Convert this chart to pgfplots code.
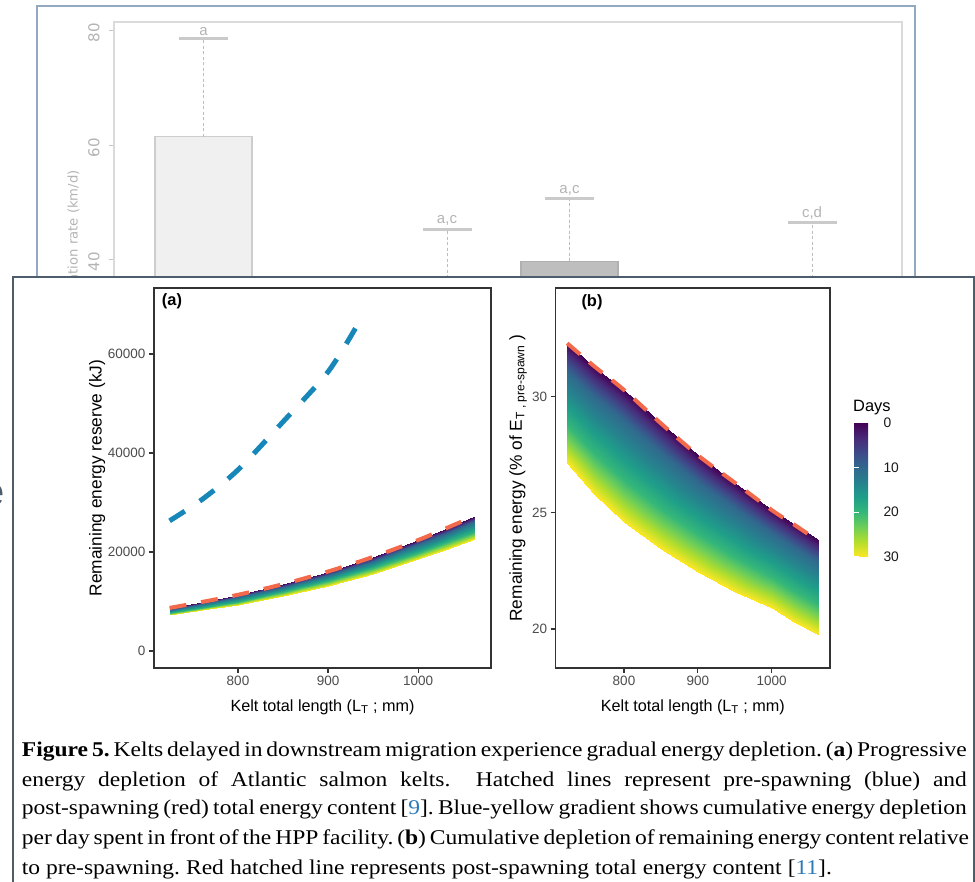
\documentclass[border=0pt]{standalone}
\usepackage{fontspec}
\setmainfont{Liberation Serif}
\newfontfamily\arial{Liberation Sans}
\newfontfamily\dejavu{DejaVu Sans}
\newfontfamily\capserif[FakeStretch=1.12]{Liberation Serif}
\usepackage{pgfplots}
\pgfplotsset{compat=1.18}

\definecolor{frameblue}{HTML}{93A9C1}
\definecolor{overlaycol}{HTML}{4E5D6C}
\definecolor{bgpanel}{HTML}{DADADA}
\definecolor{bgtext}{HTML}{B4B4B4}
\definecolor{bgtick}{HTML}{C4C4C4}
\definecolor{bgwhisk}{HTML}{BDBDBD}
\definecolor{bgcap}{HTML}{CACACA}
\definecolor{bar1}{HTML}{F0F0F0}
\definecolor{bar1edge}{HTML}{CDCDCD}
\definecolor{bar3}{HTML}{BEBEBE}
\definecolor{bar3edge}{HTML}{B0B0B0}
\definecolor{axdark}{HTML}{333333}
\definecolor{tickgray}{HTML}{4D4D4D}
\definecolor{redl}{HTML}{F26A4B}
\definecolor{bluel}{HTML}{1787BA}
\definecolor{citeblue}{HTML}{2B7BB9}

\pgfplotsset{colormap={vir}{rgb255=(68,1,84) rgb255=(72,40,120) rgb255=(62,74,137)
  rgb255=(49,104,142) rgb255=(38,130,142) rgb255=(31,158,137) rgb255=(53,183,121)
  rgb255=(110,206,88) rgb255=(181,222,43) rgb255=(253,231,37)}}

\newcommand{\tickfont}{\arial\fontsize{13.5}{14}\selectfont}
\newcommand{\labfont}{\arial\fontsize{16.2}{18}\selectfont}
\newcommand{\ylabfont}{\arial\fontsize{17.3}{18}\selectfont}
\newcommand{\capfont}{\capserif\fontsize{21}{24}\selectfont\frenchspacing}
\newcommand{\refc}[1]{[\textcolor{citeblue}{#1}]}

\begin{document}
\begin{tikzpicture}[x=1pt,y=1pt]
\useasboundingbox (0,0) rectangle (975,882);
\fill[white] (0,0) rectangle (975,882);

% ---- background screenshot: bar chart behind the figure ----
\draw[frameblue, line width=2pt] (37,876) rectangle (915,-20);

\begin{axis}[
    name=bg, at={(114pt,393pt)}, anchor=south west, scale only axis,
    width=788pt, height=467pt,
    xmin=114, xmax=902, ymin=0, ymax=81.57,
    axis line style={draw=bgpanel, line width=2pt},
    xtick=\empty, ytick={40,60,80}, yticklabels={40,60,80},
    ytick pos=left, tick align=outside, major tick length=5pt,
    tick style={draw=bgtick, line width=1pt},
    yticklabel style={font=\dejavu\fontsize{15}{16}\selectfont, text=bgtext,
        rotate=90, anchor=south, xshift=-2pt, yshift=6pt},
]
\addplot[ybar, bar width=97pt, bar shift=0pt, fill=bar1, draw=bar1edge, line width=1.2pt,
    error bars/.cd, y dir=plus, y explicit,
    error bar style={draw=bgwhisk, line width=1pt, dash pattern=on 3pt off 2.5pt},
    error mark options={draw=bgcap, solid, rotate=90, mark size=24.5pt, line width=3pt}]
    coordinates {(203.5,61.5) +- (0,17.1)};
\addplot[ybar, bar width=97pt, bar shift=0pt, fill=bar1, draw=bar1edge, line width=1.2pt,
    error bars/.cd, y dir=plus, y explicit,
    error bar style={draw=bgwhisk, line width=1pt, dash pattern=on 3pt off 2.5pt},
    error mark options={draw=bgcap, solid, rotate=90, mark size=24.5pt, line width=3pt}]
    coordinates {(447,33) +- (0,12.4) (812,34) +- (0,12.5)};
\addplot[ybar, bar width=97pt, bar shift=0pt, fill=bar3, draw=bar3edge, line width=1.2pt,
    error bars/.cd, y dir=plus, y explicit,
    error bar style={draw=bgwhisk, line width=1pt, dash pattern=on 3pt off 2.5pt},
    error mark options={draw=bgcap, solid, rotate=90, mark size=24.5pt, line width=3pt}]
    coordinates {(569.5,39.8) +- (0,11.0)};
\addplot[draw=none, mark=none, nodes near coords, point meta=explicit symbolic,
    every node near coord/.append style={font=\arial\fontsize{15}{16}\selectfont,
        text=bgtext, anchor=south, inner sep=0pt, yshift=3pt}]
    coordinates {(203.5,78.6)[a] (447,45.4)[a,c] (569.5,50.8)[a,c] (812,46.5)[c,d]};
\end{axis}
\node[rotate=90, anchor=east, inner sep=0pt, font=\dejavu\fontsize{13.2}{14}\selectfont,
    text=bgtext] at (74,712) {Migration rate (km/d)};

% ---- figure overlay ----
\draw[overlaycol, line width=2pt, fill=white] (13,605) rectangle (974,-20);
\node[anchor=east, inner sep=0pt, font=\arial\fontsize{40}{40}\selectfont, text=overlaycol]
    at (5,387) {e};

% panel (a)
\begin{axis}[
    name=pa, at={(154pt,214pt)}, anchor=south west, scale only axis,
    width=337pt, height=380pt,
    xmin=706.7, xmax=1081, ymin=-3434, ymax=73333,
    scaled y ticks=false, scaled x ticks=false,
    axis line style={draw=axdark, line width=1.3pt},
    tick pos=left, tick align=outside, major tick length=5pt,
    tick style={draw=axdark, line width=1.1pt},
    xtick={800,900,1000}, xticklabels={800,900,1000},
    ytick={0,20000,40000,60000}, yticklabels={0,20000,40000,60000},
    ticklabel style={font=\tickfont, text=tickgray},
    xlabel={Kelt total length (L\textsubscript{T} ; mm)},
    ylabel={Remaining energy reserve (kJ)},
    xlabel style={font=\labfont, at={(axis description cs:0.5,-0.1026)}, anchor=center},
    ylabel style={font=\ylabfont, at={(axis description cs:-0.169,0.5)}, anchor=center},
    colormap name=vir, point meta min=0, point meta max=30,
]
% energy after 0, 10, 20 and 30 days (one row per day)
\addplot[surf, shader=interp, mesh/rows=4, point meta=explicit] table[x=L, y=E, meta=d] {
L E d
724 8700 0
760 9900 0
800 11350 0
850 13500 0
900 16050 0
950 19000 0
1000 22400 0
1030 24700 0
1063 27300 0
724 8380 10
760 9510 10
800 10870 10
850 12940 10
900 15380 10
950 18230 10
1000 21530 10
1030 23720 10
1063 26220 10
724 7750 20
760 8740 20
800 9920 20
850 11830 20
900 14080 20
950 16720 20
1000 19820 20
1030 21810 20
1063 24100 20
724 7300 30
760 8200 30
800 9250 30
850 11050 30
900 13150 30
950 15650 30
1000 18600 30
1030 20450 30
1063 22600 30
};
\addplot[draw=redl, line width=4pt, dash pattern=on 17pt off 15pt, smooth] coordinates {
(724,8700) (760,9900) (800,11350) (850,13500) (900,16050) (950,19000)
(1000,22400) (1030,24700) (1063,27300)};
\addplot[draw=bluel, line width=5pt, dash pattern=on 18pt off 18pt, smooth] coordinates {
(724,26300) (760,30600) (800,36600) (850,46300) (900,56400) (933,66000)};
\end{axis}
\node[font=\arial\bfseries\fontsize{16.4}{17}\selectfont] at (172,581) {(a)};

% panel (b)
\begin{axis}[
    name=pb, at={(555.7pt,214pt)}, anchor=south west, scale only axis,
    width=274.3pt, height=380pt,
    xmin=707.5, xmax=1079, ymin=18.32, ymax=34.68,
    axis line style={draw=axdark, line width=1.3pt},
    tick pos=left, tick align=outside, major tick length=5pt,
    tick style={draw=axdark, line width=1.1pt},
    xtick={800,900,1000}, xticklabels={800,900,1000},
    ytick={20,25,30}, yticklabels={20,25,30},
    ticklabel style={font=\tickfont, text=tickgray},
    xlabel={Kelt total length (L\textsubscript{T} ; mm)},
    ylabel={Remaining energy (\% of E\textsubscript{T , pre-spawn} )},
    xlabel style={font=\labfont, at={(axis description cs:0.5,-0.1026)}, anchor=center},
    ylabel style={font=\ylabfont, at={(axis description cs:-0.137,0.5)}, anchor=center},
    colormap name=vir, point meta min=0, point meta max=30,
    colorbar,
    colorbar style={
        at={(1.0875,0.645)}, anchor=north west,
        width=26pt, height=134pt, scale only axis,
        y dir=reverse, ytick={0,10,20,30}, yticklabels={0,10,20,30},
        ytick pos=both, yticklabel pos=right,
        tick align=inside, major tick length=5pt,
        tick style={draw=white, line width=1.2pt},
        axis line style={draw=none},
        yticklabel style={font=\arial\fontsize{13.8}{14}\selectfont, text=black!90},
    },
]
\addplot[surf, shader=interp, mesh/rows=4, point meta=explicit] table[x=L, y=P, meta=d] {
L P d
723 32.3 0
760 31.3 0
800 30.29 0
850 28.85 0
900 27.48 0
950 26.3 0
1000 25.12 0
1030 24.5 0
1064 23.83 0
723 31.11 10
760 30.03 10
800 28.98 10
850 27.61 10
900 26.33 10
950 25.22 10
1000 24.15 10
1030 23.53 10
1064 22.89 10
723 28.78 20
760 27.56 20
800 26.43 20
850 25.18 20
900 24.07 20
950 23.10 20
1000 22.24 20
1030 21.64 20
1064 21.05 20
723 27.13 30
760 25.8 30
800 24.61 30
850 23.45 30
900 22.46 30
950 21.6 30
1000 20.89 30
1030 20.3 30
1064 19.74 30
};
\addplot[draw=redl, line width=4pt, dash pattern=on 17pt off 12pt, smooth] coordinates {
(723,32.3) (760,31.3) (800,30.29) (850,28.85) (900,27.48) (950,26.3)
(1000,25.12) (1030,24.5) (1058,23.9)};
\end{axis}
\node[font=\arial\bfseries\fontsize{16.4}{17}\selectfont] at (592,580) {(b)};
\node[anchor=west, inner sep=0pt, font=\arial\fontsize{16.4}{17}\selectfont] at (853,474) {Days};

% ---- caption ----
\begin{scope}[every node/.style={anchor=base west, inner sep=0pt, font=\capfont}]
\node at (21.7,125) {\makebox[945pt][s]{\textbf{Figure 5.} Kelts delayed in downstream migration experience gradual energy depletion. (\textbf{a}) Progressive}};
\node at (21.7,95) {\makebox[945pt][s]{energy depletion of Atlantic salmon kelts. \ Hatched lines represent pre-spawning (blue) and}};
\node at (21.7,67) {\makebox[945pt][s]{post-spawning (red) total energy content \refc{9}. Blue-yellow gradient shows cumulative energy depletion}};
\node at (21.7,37) {\makebox[945pt][s]{per day spent in front of the HPP facility. (\textbf{b}) Cumulative depletion of remaining energy content relative}};
\node at (21.7,7) {\makebox[810pt][s]{to pre-spawning. Red hatched line represents post-spawning total energy content \refc{11}.}};
\end{scope}
\end{tikzpicture}
\end{document}
